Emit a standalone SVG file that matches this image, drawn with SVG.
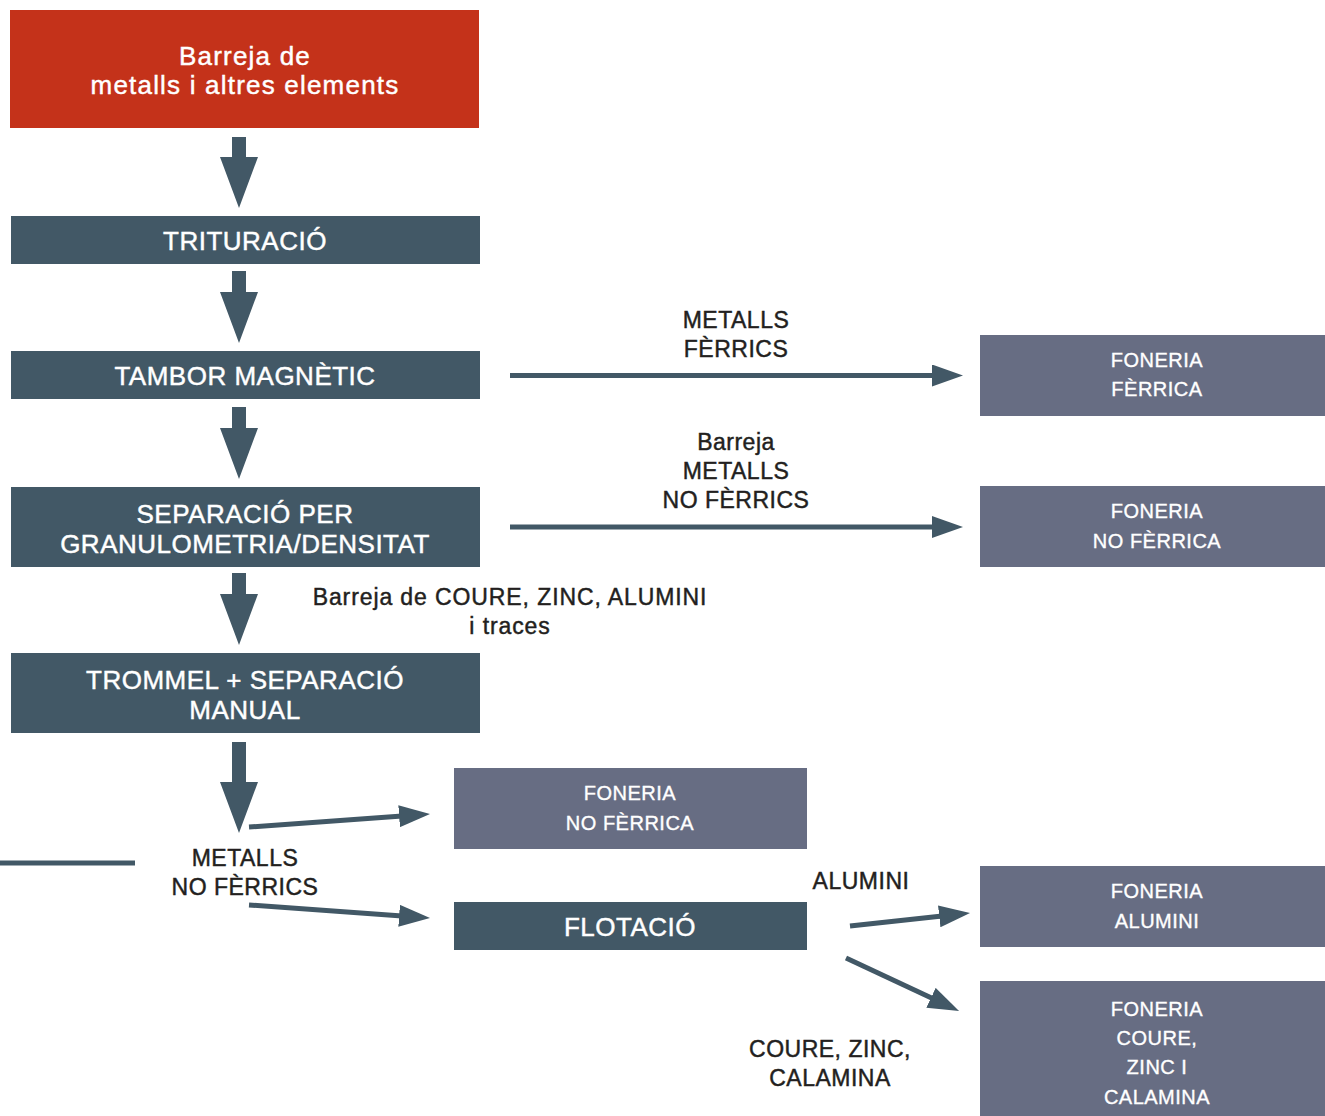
<svg xmlns="http://www.w3.org/2000/svg" width="1325" height="1116" viewBox="0 0 1325 1116">
<defs>
<style>
.red{fill:#C4321A}
.dark{fill:#425866}
.gray{fill:#676D83}
.tb{font-family:"Liberation Sans",Arial,sans-serif;font-size:26px;fill:#fff;stroke:#fff;stroke-width:0.45px;text-anchor:middle;letter-spacing:0.5px}
.ts{font-family:"Liberation Sans",Arial,sans-serif;font-size:20px;fill:#fff;stroke:#fff;stroke-width:0.35px;text-anchor:middle;letter-spacing:0.5px}
.tl{font-family:"Liberation Sans",Arial,sans-serif;font-size:23px;fill:#231F20;stroke:#231F20;stroke-width:0.45px;text-anchor:middle;letter-spacing:0.5px}
.ln{stroke:#425866;stroke-width:5;fill:none}
.ah{fill:#425866}
</style>
<marker id="head" markerWidth="31" markerHeight="22" refX="3" refY="11" orient="auto" markerUnits="userSpaceOnUse">
<path d="M0,0 L31,11 L0,22 Z" fill="#425866"/>
</marker>
</defs>
<rect width="1325" height="1116" fill="#fff"/>

<g id="n-barreja">
<rect class="red" x="10" y="10" width="469" height="118"/>
<text class="tb" x="245" y="65" style="letter-spacing:1.2px">Barreja de</text>
<text class="tb" x="245" y="94" style="letter-spacing:1.2px">metalls i altres elements</text>
</g>
<g id="n-trituracio">
<rect class="dark" x="11" y="216" width="469" height="48"/>
<text class="tb" x="245" y="250">TRITURACIÓ</text>
</g>
<g id="n-tambor">
<rect class="dark" x="11" y="351" width="469" height="48"/>
<text class="tb" x="245" y="385">TAMBOR MAGNÈTIC</text>
</g>
<g id="n-separacio">
<rect class="dark" x="11" y="487" width="469" height="80"/>
<text class="tb" x="245" y="523">SEPARACIÓ PER</text>
<text class="tb" x="245" y="553">GRANULOMETRIA/DENSITAT</text>
</g>
<g id="n-trommel">
<rect class="dark" x="11" y="653" width="469" height="80"/>
<text class="tb" x="245" y="689">TROMMEL + SEPARACIÓ</text>
<text class="tb" x="245" y="719">MANUAL</text>
</g>
<g id="n-foneria-ferrica">
<rect class="gray" x="980" y="335" width="345" height="81"/>
<text class="ts" x="1157" y="367">FONERIA</text>
<text class="ts" x="1157" y="396">FÈRRICA</text>
</g>
<g id="n-foneria-no-ferrica-1">
<rect class="gray" x="980" y="486" width="345" height="81"/>
<text class="ts" x="1157" y="518">FONERIA</text>
<text class="ts" x="1157" y="548">NO FÈRRICA</text>
</g>
<g id="n-foneria-no-ferrica-2">
<rect class="gray" x="454" y="768" width="353" height="81"/>
<text class="ts" x="630" y="800">FONERIA</text>
<text class="ts" x="630" y="830">NO FÈRRICA</text>
</g>
<g id="n-flotacio">
<rect class="dark" x="454" y="902" width="353" height="48"/>
<text class="tb" x="630" y="936">FLOTACIÓ</text>
</g>
<g id="n-foneria-alumini">
<rect class="gray" x="980" y="866" width="345" height="81"/>
<text class="ts" x="1157" y="898">FONERIA</text>
<text class="ts" x="1157" y="928">ALUMINI</text>
</g>
<g id="n-foneria-coure">
<rect class="gray" x="980" y="981" width="345" height="135"/>
<text class="ts" x="1157" y="1016">FONERIA</text>
<text class="ts" x="1157" y="1045">COURE,</text>
<text class="ts" x="1157" y="1074">ZINC I</text>
<text class="ts" x="1157" y="1104">CALAMINA</text>
</g>

<g id="connectors">
<path class="ah" d="M232,137 H246 V157 H258 L239,208 L220,157 H232 Z"/>
<path class="ah" d="M232,271 H246 V292 H258 L239,343 L220,292 H232 Z"/>
<path class="ah" d="M232,407 H246 V428 H258 L239,479 L220,428 H232 Z"/>
<path class="ah" d="M232,573 H246 V594 H258 L239,645 L220,594 H232 Z"/>
<path class="ah" d="M232,742 H246 V782 H258 L239,833 L220,782 H232 Z"/>
<line class="ln" x1="510" y1="375.5" x2="935" y2="375.5" marker-end="url(#head)"/>
<line class="ln" x1="510" y1="527" x2="935" y2="527" marker-end="url(#head)"/>
<line class="ln" x1="249" y1="827" x2="402.1" y2="816" marker-end="url(#head)"/>
<line class="ln" x1="249" y1="905" x2="402.1" y2="916" marker-end="url(#head)"/>
<line class="ln" x1="0" y1="863" x2="135" y2="863"/>
<line class="ln" x1="850" y1="926" x2="942.2" y2="916" marker-end="url(#head)"/>
<line class="ln" x1="846" y1="958" x2="933.7" y2="999.1" marker-end="url(#head)"/>
</g>

<g id="labels">
<text class="tl" x="736" y="328">METALLS</text>
<text class="tl" x="736" y="357">FÈRRICS</text>
<text class="tl" x="736" y="450">Barreja</text>
<text class="tl" x="736" y="479">METALLS</text>
<text class="tl" x="736" y="508">NO FÈRRICS</text>
<text class="tl" x="510" y="605" style="letter-spacing:0.9px">Barreja de COURE, ZINC, ALUMINI</text>
<text class="tl" x="510" y="634" style="letter-spacing:0.9px">i traces</text>
<text class="tl" x="245" y="866">METALLS</text>
<text class="tl" x="245" y="895">NO FÈRRICS</text>
<text class="tl" x="861" y="889">ALUMINI</text>
<text class="tl" x="830" y="1057">COURE, ZINC,</text>
<text class="tl" x="830" y="1086">CALAMINA</text>
</g>
</svg>
